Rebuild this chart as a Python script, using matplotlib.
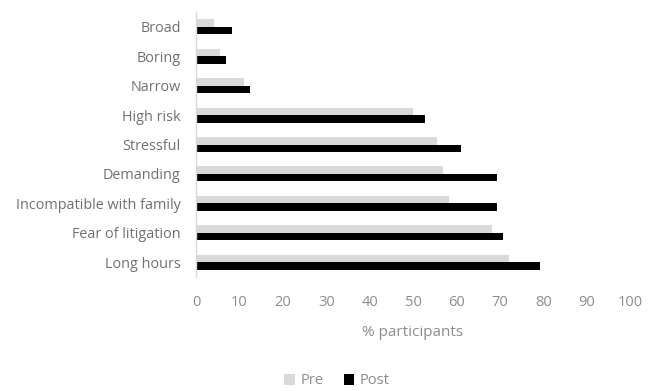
import matplotlib
matplotlib.use("Agg")
import matplotlib.pyplot as plt
import numpy as np

categories = ["Broad", "Boring", "Narrow", "High risk", "Stressful", "Demanding",
              "Incompatible with family", "Fear of litigation", "Long hours"]
pre = [4.2, 5.5, 11.1, 49.9, 55.5, 56.9, 58.2, 68.1, 72.2]
post = [8.3, 6.8, 12.5, 52.8, 61.1, 69.4, 69.4, 70.7, 79.2]
xticks = [0, 10, 20, 30, 40, 50, 60, 70, 80, 90, 100]

plt.rcParams['font.family'] = ['Open Sans', 'DejaVu Sans']

fig = plt.figure(figsize=(6.52, 3.91), dpi=100)
ax = fig.add_axes([196/652, 1-277/391, (630-196)/652, (277-12)/391])

y = np.arange(len(categories))
h = 0.255
ax.barh(y - h/2, pre, height=h, color='#d9d9d9', label='Pre')
ax.barh(y + h/2, post, height=h, color='#000000', label='Post')

ax.set_ylim(len(categories) - 0.5, -0.5)
ax.set_xlim(0, 100)
ax.set_xticks(xticks)
ax.set_xticklabels([str(t) for t in xticks])
ax.set_yticks(y)
ax.set_yticklabels(categories)

for s in ['top', 'right', 'bottom']:
    ax.spines[s].set_visible(False)
ax.spines['left'].set_color('#d9d9d9')
ax.spines['left'].set_linewidth(1.0)
ax.tick_params(axis='both', length=0)
ax.tick_params(axis='x', colors='#8c8c8c', labelsize=10.5, pad=13)
ax.tick_params(axis='y', colors='#707070', labelsize=10.4, pad=11)
ax.set_xlabel('% participants', color='#8c8c8c', fontsize=11, labelpad=11)

fig.legend(loc='center', bbox_to_anchor=(337/652, 1-381/391), ncol=2, frameon=False,
           fontsize=10.5, labelcolor='#8c8c8c', handlelength=0.7, handleheight=0.7,
           handletextpad=0.4, columnspacing=1.4)

fig.savefig('out.png', dpi=100)
